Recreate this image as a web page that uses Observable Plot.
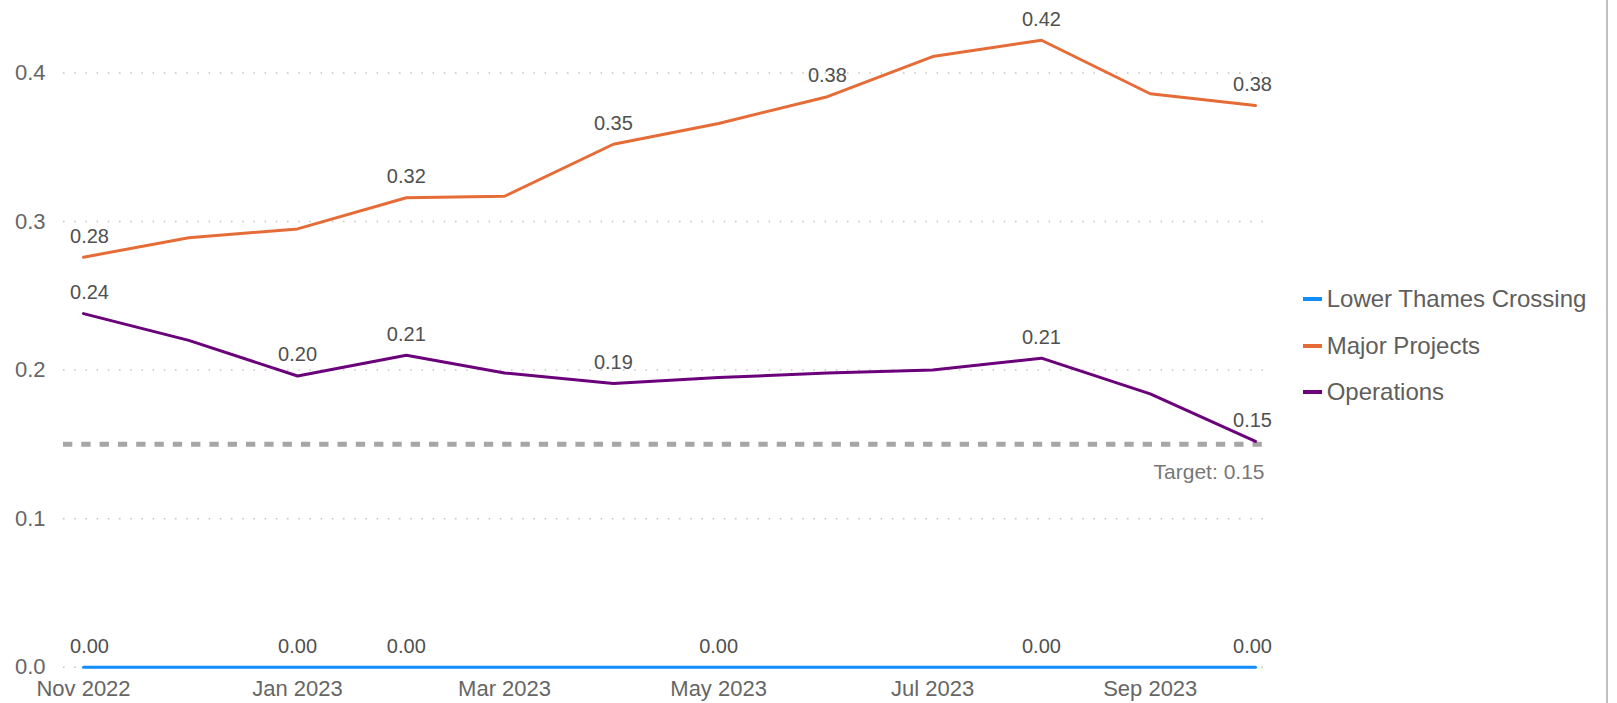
<!DOCTYPE html>
<html>
<head>
<meta charset="utf-8">
<script src="https://cdn.jsdelivr.net/npm/d3@7"></script>
<script src="https://cdn.jsdelivr.net/npm/@observablehq/plot@0.6"></script>
<style>
  html, body { margin: 0; padding: 0; background: #fff; }
  #wrap { display: flex; align-items: flex-start; width: 1606px; height: 703px; border-right: 2px solid #c0c0c0; overflow: hidden; }
  #legend { padding-top: 275.6px; margin-left: 12.7px; font-family: "Liberation Sans", Arial, sans-serif; }
  .item { display: flex; align-items: center; height: 46.7px; font-size: 24px; color: #605E5C; white-space: nowrap; }
  .sw { display: inline-block; width: 19px; height: 4px; margin-right: 5px; }
</style>
</head>
<body>
<div id="wrap"><div id="chart"></div><div id="legend"></div></div>
<script>
// ---- data ----
const months = ["2022-11-01","2022-12-01","2023-01-01","2023-02-01","2023-03-01","2023-04-01",
                "2023-05-01","2023-06-01","2023-07-01","2023-08-01","2023-09-01","2023-10-01"];
const seriesNames = ["Lower Thames Crossing", "Major Projects", "Operations"];
const seriesColors = ["#118DFF", "#E66C37", "#6B007B"];
const lowerThames   = [0, 0, 0, 0, 0, 0, 0, 0, 0, 0, 0, 0];
const majorProjects = [0.276, 0.289, 0.295, 0.316, 0.317, 0.352, 0.366, 0.384, 0.411, 0.422, 0.386, 0.378];
const operations    = [0.238, 0.220, 0.196, 0.210, 0.198, 0.191, 0.195, 0.198, 0.200, 0.208, 0.184, 0.152];
// months whose values carry a data label
const lowerThamesLabelled   = ["2022-11-01","2023-01-01","2023-02-01","2023-05-01","2023-08-01","2023-10-01"];
const majorProjectsLabelled = ["2022-11-01","2023-02-01","2023-04-01","2023-06-01","2023-08-01","2023-10-01"];
const operationsLabelled    = ["2022-11-01","2023-01-01","2023-02-01","2023-04-01","2023-08-01","2023-10-01"];
const yTicks = [0, 0.1, 0.2, 0.3, 0.4];
const xTicks = ["2022-11-01","2023-01-01","2023-03-01","2023-05-01","2023-07-01","2023-09-01"];
const target = 0.15;
const targetLabel = "Target: 0.15";

// ---- build table ----
const seriesValues = [lowerThames, majorProjects, operations];
const seriesLabelled = [lowerThamesLabelled, majorProjectsLabelled, operationsLabelled];
const rows = [];
seriesNames.forEach((name, s) => {
  months.forEach((m, i) => {
    rows.push({series: name, date: new Date(m), value: seriesValues[s][i], labelled: seriesLabelled[s].includes(m), idx: i});
  });
});
const labelled = rows.filter(d => d.labelled);
const last = months.length - 1;
const fmt = d3.format(".2f");
const font = "'Liberation Sans', Arial, sans-serif";

const chart = Plot.plot({
  width: 1290,
  height: 703,
  marginLeft: 63,
  marginRight: 20,
  marginTop: 13,
  marginBottom: 36.3,
  style: {fontFamily: font, background: "white", overflow: "visible"},
  x: {type: "utc", domain: [new Date(months[0]), new Date(months[last])], insetLeft: 20, insetRight: 15},
  y: {domain: [0, 0.44]},
  color: {domain: seriesNames, range: seriesColors},
  marks: [
    Plot.gridY(yTicks, {stroke: "#c4c4c4", strokeOpacity: 1, strokeWidth: 1.5, strokeDasharray: "1.5,9.7"}),
    Plot.axisY(yTicks, {tickSize: 0, tickPadding: 18, tickFormat: d3.format(".1f"), fontSize: 22, fill: "#666", label: null}),
    Plot.axisX(xTicks.map(d => new Date(d)), {tickSize: 0, tickPadding: 13, tickFormat: d3.utcFormat("%b %Y"), fontSize: 22, fill: "#666", label: null}),
    Plot.ruleY([target], {stroke: "#a6a6a6", strokeWidth: 5, strokeDasharray: "9.3,9"}),
    Plot.text([target], {y: d => d, frameAnchor: "right", textAnchor: "end", text: () => targetLabel, dx: -6, dy: 28, fontSize: 21, fill: "#777"}),
    Plot.line(rows, {x: "date", y: "value", z: "series", stroke: "series", strokeWidth: 3}),
    Plot.text(labelled.filter(d => d.idx > 0 && d.idx < last), {x: "date", y: "value", text: d => fmt(d.value), dy: -21, fontSize: 20, fill: "#505050"}),
    Plot.text(labelled.filter(d => d.idx === 0), {x: "date", y: "value", text: d => fmt(d.value), dy: -21, dx: 6, fontSize: 20, fill: "#505050"}),
    Plot.text(labelled.filter(d => d.idx === last), {x: "date", y: "value", text: d => fmt(d.value), dy: -21, dx: -3, fontSize: 20, fill: "#505050"})
  ]
});
document.getElementById("chart").appendChild(chart);

const legend = document.getElementById("legend");
seriesNames.forEach((name, i) => {
  const item = document.createElement("div");
  item.className = "item";
  const sw = document.createElement("span");
  sw.className = "sw";
  sw.style.background = seriesColors[i];
  item.appendChild(sw);
  item.appendChild(document.createTextNode(name));
  legend.appendChild(item);
});
</script>
</body>
</html>
